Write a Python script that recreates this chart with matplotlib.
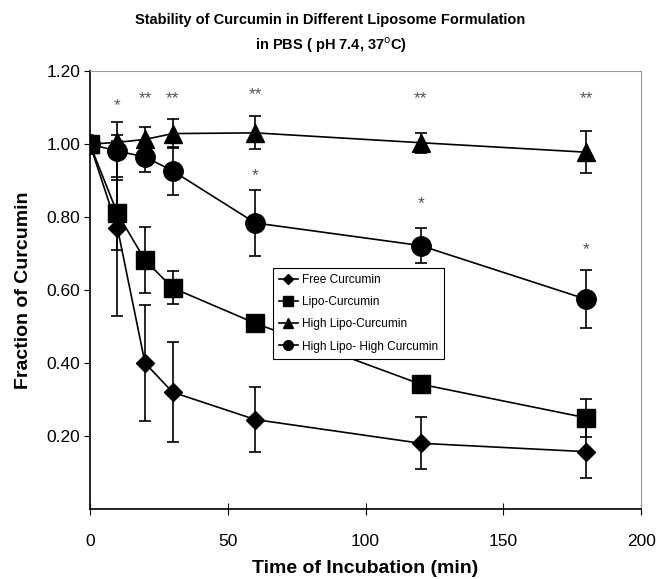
import matplotlib
matplotlib.use('Agg')
import matplotlib.pyplot as plt

plt.rcParams['font.family'] = ['Liberation Sans', 'DejaVu Sans']

t = [0, 10, 20, 30, 60, 120, 180]

free_cur = [1.00, 0.77, 0.40, 0.32, 0.245, 0.18, 0.157]
free_err = [0, 0.24, 0.16, 0.137, 0.09, 0.071, 0.073]

lipo_cur = [1.00, 0.81, 0.682, 0.606, 0.509, 0.342, 0.25]
lipo_err = [0, 0.10, 0.09, 0.045, 0.01, 0.015, 0.052]

hilipo_cur = [1.00, 1.005, 1.013, 1.029, 1.031, 1.004, 0.978]
hilipo_err = [0, 0.02, 0.034, 0.04, 0.045, 0.027, 0.058]

hihi_cur = [1.00, 0.981, 0.965, 0.927, 0.784, 0.722, 0.575]
hihi_err = [0, 0.08, 0.04, 0.065, 0.09, 0.048, 0.08]

star_t = [10, 20, 30, 60, 120, 180, 60, 120, 180]
star_y = [1.107, 1.125, 1.125, 1.137, 1.125, 1.125, 0.915, 0.836, 0.712]
star_txt = ['*', '**', '**', '**', '**', '**', '*', '*', '*']

labels = ['Free Curcumin', 'Lipo-Curcumin', 'High Lipo-Curcumin', 'High Lipo- High Curcumin']

fig = plt.figure(figsize=(6.61, 5.79), dpi=100)
ax = fig.add_axes([0.136, 0.121, 0.834, 0.756])

series = [(free_cur, free_err, 'D', 9.5),
          (lipo_cur, lipo_err, 's', 13.5),
          (hilipo_cur, hilipo_err, '^', 13),
          (hihi_cur, hihi_err, 'o', 14)]
handles = []
for (y, e, m, ms), lab in zip(series, labels):
    ax.errorbar(t, y, yerr=e, color='black', ecolor='black', elinewidth=1.2,
                capsize=4, capthick=1.2, fmt='none', zorder=2)
    h, = ax.plot(t, y, color='black', lw=1.2, marker=m, markersize=ms, zorder=3, label=lab)
    handles.append(h)

for x, y, s in zip(star_t, star_y, star_txt):
    ax.text(x, y, s, ha='center', va='center', fontsize=12.5, color='#555555')

ax.set_xlim(0, 200)
ax.set_ylim(0, 1.2)
ax.set_xticks([0, 50, 100, 150, 200])
ax.set_yticks([0.2, 0.4, 0.6, 0.8, 1.0, 1.2])
ax.set_yticklabels(['0.20', '0.40', '0.60', '0.80', '1.00', '1.20'])
ax.tick_params(axis='both', labelsize=12.5, direction='out', length=4)
ax.tick_params(axis='x', direction='inout', length=8, pad=14)
ax.tick_params(axis='y', pad=3)
for side in ['top', 'right']:
    ax.spines[side].set_color('#999999')
for side in ['left', 'bottom']:
    ax.spines[side].set_linewidth(1.2)

ax.set_xlabel('Time of Incubation (min)', fontsize=14, fontweight='bold', labelpad=8)
ax.set_ylabel('Fraction of Curcumin', fontsize=14, fontweight='bold', labelpad=10)
fig.suptitle('Stability of Curcumin in Different Liposome Formulation\nin PBS ( pH 7.4, 37$^\\mathrm{o}$C)',
             fontsize=10.5, fontweight='bold', y=0.978, linespacing=1.6)

leg = ax.legend(handles=handles, loc='upper left', bbox_to_anchor=(0.332, 0.55),
                fontsize=8.6, markerscale=0.5, handlelength=1.6, handletextpad=0.3,
                fancybox=False, framealpha=1, edgecolor='black', borderpad=0.5,
                labelspacing=0.85, borderaxespad=0)
leg.get_frame().set_linewidth(0.8)

fig.savefig('out.png', dpi=100)
